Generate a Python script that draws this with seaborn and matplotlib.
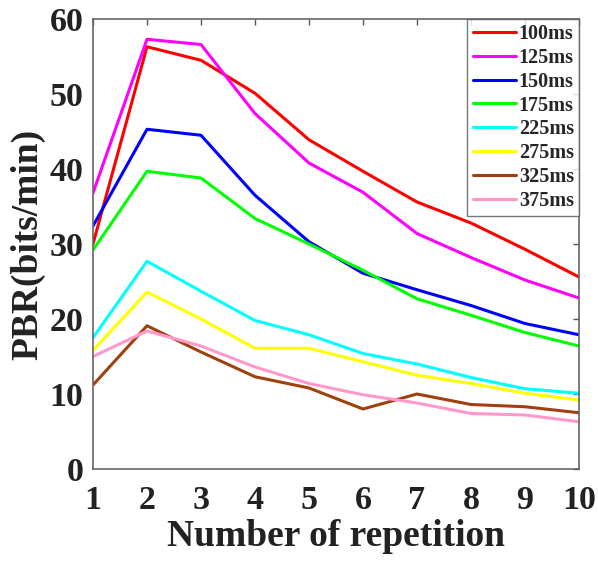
import pandas as pd
import matplotlib
matplotlib.use('Agg')
import matplotlib.pyplot as plt
import seaborn as sns

# values
repetitions = [1, 2, 3, 4, 5, 6, 7, 8, 9, 10]
durations = ['100ms', '125ms', '150ms', '175ms', '225ms', '275ms', '325ms', '375ms']
pbr_100 = [30.0, 56.3, 54.5, 50.1, 43.9, 39.7, 35.6, 32.8, 29.3, 25.6]
pbr_125 = [36.8, 57.3, 56.6, 47.4, 40.8, 36.9, 31.4, 28.2, 25.2, 22.8]
pbr_150 = [32.4, 45.3, 44.5, 36.5, 30.3, 26.1, 23.9, 21.8, 19.4, 17.9]
pbr_175 = [29.2, 39.7, 38.8, 33.4, 30.0, 26.5, 22.7, 20.5, 18.2, 16.4]
pbr_225 = [17.5, 27.7, 23.7, 19.8, 17.9, 15.4, 14.0, 12.2, 10.7, 10.1]
pbr_275 = [15.8, 23.6, 20.0, 16.1, 16.1, 14.3, 12.5, 11.4, 10.1, 9.2]
pbr_325 = [11.2, 19.1, 15.6, 12.3, 10.8, 8.0, 10.0, 8.6, 8.3, 7.5]
pbr_375 = [15.0, 18.4, 16.4, 13.6, 11.4, 9.9, 8.8, 7.4, 7.2, 6.3]
colors = ['#ff0000', '#ff00ff', '#0000ff', '#00ff00',
          '#00ffff', '#ffff00', '#a0400f', '#ff99cc']

series = [pbr_100, pbr_125, pbr_150, pbr_175, pbr_225, pbr_275, pbr_325, pbr_375]
rows = []
for name, vals in zip(durations, series):
    for r, v in zip(repetitions, vals):
        rows.append({'rep': r, 'pbr': v, 'dur': name})
df = pd.DataFrame(rows)

sns.set_style('white')
plt.rcParams['font.family'] = ['Liberation Serif', 'DejaVu Serif']
plt.rcParams['font.weight'] = 'bold'

fig = plt.figure(figsize=(5.98, 5.61), dpi=100)
ax = fig.add_axes([0.1555, 0.164, 0.8127, 0.8021])

sns.lineplot(data=df, x='rep', y='pbr', hue='dur', hue_order=durations,
             palette=colors, linewidth=2.2, ax=ax)

ax.set_xlim(1, 10)
ax.set_ylim(0, 60)
ax.set_xticks(repetitions)
ax.set_yticks([0, 10, 20, 30, 40, 50, 60])
ax.tick_params(direction='in', length=4, width=1, color='#555555',
               top=True, right=True, labelsize=24.5, labelcolor='#222222')
ax.tick_params(axis='x', pad=11.5)
ax.tick_params(axis='y', pad=7)
for lab in ax.get_xticklabels() + ax.get_yticklabels():
    lab.set_fontweight('bold')
for sp in ax.spines.values():
    sp.set_color('#666666')
    sp.set_linewidth(1.2)

ax.set_xlabel('Number of repetition', fontsize=27, fontweight='bold',
              labelpad=2, color='#222222')
ax.set_ylabel('PBR(bits/min)', fontsize=27, fontweight='bold',
              labelpad=3, color='#222222')

leg = ax.legend(loc='upper right', borderaxespad=0, fancybox=False,
                prop={'weight': 'bold', 'size': 14.5}, handlelength=2.15,
                handletextpad=0.15, labelspacing=0.19, borderpad=0.25)
leg.get_frame().set_edgecolor('#555555')
leg.get_frame().set_linewidth(1.0)
for line in leg.get_lines():
    line.set_linewidth(2.2)

fig.savefig('out.png', dpi=100)
plt.close(fig)
